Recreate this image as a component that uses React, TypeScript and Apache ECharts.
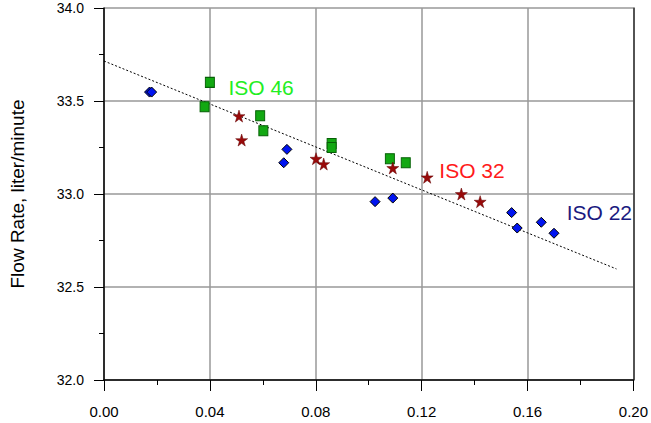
import React, { useEffect, useRef } from "react";
import * as echarts from "echarts";

const iso22: [number, number][] = [
  [0.0172, 33.548], [0.018, 33.548], [0.0691, 33.24], [0.0679, 33.168],
  [0.1024, 32.959], [0.1091, 32.978], [0.154, 32.9], [0.1561, 32.817],
  [0.1652, 32.848], [0.17, 32.789],
];
const iso46: [number, number][] = [
  [0.04, 33.6], [0.038, 33.469], [0.059, 33.421], [0.0602, 33.34],
  [0.086, 33.272], [0.086, 33.25], [0.108, 33.19], [0.114, 33.168],
];
const iso32: [number, number][] = [
  [0.051, 33.419], [0.052, 33.29], [0.0801, 33.19], [0.083, 33.161],
  [0.1091, 33.14], [0.1221, 33.09], [0.135, 33.0], [0.1421, 32.959],
];
const trend: [number, number][] = [[0, 33.715], [0.1936, 32.597]];
const labels = [
  { name: "ISO 46", pos: [0.0468, 33.57], color: "#22ee22" },
  { name: "ISO 32", pos: [0.1265, 33.124], color: "#ff1a1a" },
  { name: "ISO 22", pos: [0.1746, 32.898], color: "#1a1a80" },
];
const xTicks = ["0.00", "0.04", "0.08", "0.12", "0.16", "0.20"];
const yTicks = ["32.0", "32.5", "33.0", "33.5", "34.0"];

export default function App() {
  const ref = useRef<HTMLDivElement>(null);
  useEffect(() => {
    if (!ref.current) return;
    const chart = echarts.init(ref.current, null, { renderer: "svg" });
    const font = "Liberation Sans, Arial, sans-serif";
    chart.setOption({
      animation: false,
      backgroundColor: "#fff",
      grid: { left: 102, top: 8, right: 17, bottom: 43, containLabel: false },
      xAxis: {
        type: "value",
        min: 0,
        max: 0.2,
        interval: 0.04,
        axisLine: { show: true, onZero: false, lineStyle: { color: "#000", width: 1.5 } },
        axisTick: { show: true, length: 11, lineStyle: { color: "#000" } },
        minorTick: { show: true, splitNumber: 2, length: 5, lineStyle: { color: "#000" } },
        splitLine: { show: true, lineStyle: { color: "#999", width: 1.5 } },
        axisLabel: {
          margin: 24,
          fontSize: 15,
          color: "#000",
          fontFamily: font,
          formatter: (v: number) => xTicks[Math.round(v / 0.04)] ?? "",
        },
      },
      yAxis: [
        {
          type: "value",
          min: 32,
          max: 34,
          interval: 0.5,
          name: "Flow Rate, liter/minute",
          nameLocation: "middle",
          nameGap: 77,
          nameTextStyle: { fontSize: 19, color: "#000", fontFamily: font },
          axisLine: { show: true, onZero: false, lineStyle: { color: "#000", width: 1.5 } },
          axisTick: { show: true, length: 10, lineStyle: { color: "#000" } },
          minorTick: { show: true, splitNumber: 2, length: 5, lineStyle: { color: "#000" } },
          splitLine: { show: true, lineStyle: { color: "#999", width: 1.5 } },
          axisLabel: {
            margin: 20,
            fontSize: 14,
            color: "#000",
            fontFamily: font,
            formatter: (v: number) => yTicks[Math.round((v - 32) / 0.5)] ?? "",
          },
        },
        {
          type: "value",
          min: 32,
          max: 34,
          interval: 0.5,
          position: "right",
          axisLine: { show: true, onZero: false, lineStyle: { color: "#333", width: 1.5 } },
          axisTick: { show: false },
          axisLabel: { show: false },
          splitLine: { show: false },
        },
      ],
      series: [
        {
          type: "line",
          data: trend,
          symbol: "none",
          lineStyle: { color: "#000", width: 1, type: [2, 2] },
          z: 1,
        },
        {
          type: "scatter",
          data: iso46,
          symbol: "rect",
          symbolSize: [9, 10],
          itemStyle: { color: "#12a812", borderColor: "#066006", borderWidth: 1, opacity: 1 },
          z: 3,
        },
        {
          type: "scatter",
          data: iso32,
          symbol:
            "path://M50,0 L61,35 L98,35 L68,57 L79,91 L50,70 L21,91 L32,57 L2,35 L39,35 Z",
          symbolSize: 12,
          itemStyle: { color: "#990a0a", borderColor: "#600000", borderWidth: 0.5, opacity: 1 },
          z: 3,
        },
        {
          type: "scatter",
          data: iso22,
          symbol: "diamond",
          symbolSize: [10, 10],
          itemStyle: { color: "#0014f0", borderColor: "#000", borderWidth: 1, opacity: 1 },
          z: 4,
        },
        {
          type: "scatter",
          data: labels.map((l) => ({
            value: l.pos,
            label: {
              show: true,
              position: "right",
              distance: 0,
              formatter: l.name,
              color: l.color,
              opacity: 1,
              fontSize: 21,
              fontFamily: font,
            },
          })),
          symbolSize: 1,
          itemStyle: { color: "rgba(0,0,0,0)", borderWidth: 0, opacity: 1 },
          z: 5,
        },
      ],
    });
    return () => chart.dispose();
  }, []);
  return <div ref={ref} style={{ width: 651, height: 423, position: "absolute", left: 0, top: 0 }} />;
}
